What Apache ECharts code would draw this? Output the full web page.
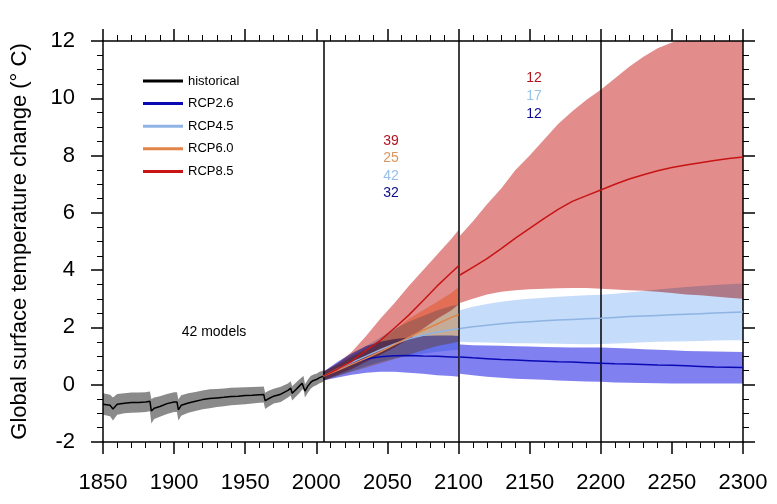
<!DOCTYPE html>
<html><head><meta charset="utf-8">
<script src="https://cdn.jsdelivr.net/npm/echarts@6/dist/echarts.min.js"></script>
<style>html,body{margin:0;padding:0;background:#fff}#c{width:777px;height:504px}</style>
</head><body><div id="c"></div>
<script>
// ---------- data ----------
const histYears = [1850,1855,1857,1860,1865,1870,1875,1880,1883,1884,1886,1890,1895,1900,1902,1903,1905,1910,1915,1920,1925,1930,1935,1940,1945,1950,1955,1960,1963,1964,1966,1970,1975,1980,1982,1983,1985,1988,1990,1991,1992,1994,1996,1998,2000,2002,2005];
const histMean = [-0.68,-0.72,-0.85,-0.68,-0.65,-0.62,-0.62,-0.6,-0.58,-0.92,-0.82,-0.76,-0.66,-0.6,-0.6,-0.88,-0.72,-0.64,-0.58,-0.52,-0.48,-0.46,-0.44,-0.41,-0.4,-0.38,-0.37,-0.35,-0.34,-0.56,-0.5,-0.4,-0.33,-0.2,-0.12,-0.3,-0.2,-0.05,0.05,0.08,-0.22,-0.05,0.08,0.15,0.18,0.24,0.3];
const histLow = [-1.05,-1.1,-1.25,-1.05,-1.0,-0.98,-0.97,-0.95,-0.93,-1.35,-1.2,-1.12,-1.02,-0.95,-0.95,-1.25,-1.08,-0.98,-0.92,-0.86,-0.82,-0.78,-0.75,-0.72,-0.7,-0.68,-0.66,-0.63,-0.62,-0.85,-0.78,-0.66,-0.6,-0.45,-0.38,-0.55,-0.45,-0.3,-0.18,-0.15,-0.45,-0.28,-0.14,-0.06,-0.02,0.04,0.1];
const histHigh = [-0.3,-0.35,-0.45,-0.32,-0.3,-0.27,-0.27,-0.26,-0.24,-0.5,-0.45,-0.4,-0.32,-0.26,-0.26,-0.52,-0.37,-0.3,-0.25,-0.2,-0.16,-0.15,-0.13,-0.11,-0.1,-0.09,-0.08,-0.07,-0.06,-0.28,-0.22,-0.14,-0.07,0.04,0.12,-0.05,0.04,0.18,0.27,0.3,0.02,0.17,0.3,0.36,0.38,0.44,0.5];

const futYears = [2005,2015,2025,2035,2045,2055,2065,2075,2085,2095,2100];
const rcp85Mean = [0.3,0.55,0.82,1.2,1.55,1.98,2.43,2.93,3.45,3.92,4.15];
const rcp85High = [0.45,0.75,1.15,1.7,2.3,2.85,3.45,4.0,4.55,5.1,5.4];
const rcp85Low  = [0.15,0.35,0.55,0.8,1.05,1.3,1.6,1.95,2.3,2.6,2.8];
const rcp60Mean = [0.3,0.5,0.72,0.92,1.15,1.4,1.65,1.9,2.12,2.35,2.45];
const rcp60High = [0.45,0.7,0.98,1.25,1.55,1.9,2.3,2.6,2.9,3.2,3.4];
const rcp60Low  = [0.15,0.3,0.45,0.6,0.75,0.9,1.05,1.2,1.35,1.45,1.5];
const rcp45Mean = [0.3,0.55,0.78,1.0,1.22,1.42,1.6,1.73,1.84,1.92,1.95];
const rcp45High = [0.45,0.75,1.05,1.35,1.65,1.95,2.2,2.4,2.6,2.75,2.8];
const rcp45Low  = [0.15,0.3,0.48,0.65,0.8,0.92,1.0,1.08,1.15,1.2,1.22];
const rcp26Mean = [0.3,0.52,0.75,0.9,0.98,1.01,1.02,1.0,0.99,0.97,0.96];
const rcp26High = [0.45,0.8,1.1,1.35,1.5,1.6,1.65,1.7,1.72,1.72,1.7];
const rcp26Low  = [0.15,0.25,0.35,0.42,0.45,0.45,0.42,0.38,0.33,0.3,0.28];

const extYears = [2101,2110,2120,2130,2140,2150,2160,2170,2180,2190,2200,2210,2220,2230,2240,2250,2260,2270,2280,2290,2300];
const ext85Mean = [3.83,4.1,4.4,4.75,5.12,5.46,5.8,6.12,6.4,6.6,6.8,7.0,7.18,7.33,7.47,7.58,7.67,7.75,7.83,7.9,7.95];
const ext85High = [5.2,5.7,6.3,6.85,7.5,8.0,8.55,9.1,9.55,9.95,10.3,10.7,11.1,11.45,11.75,11.95,12.1,12.3,12.5,12.6,12.7];
const ext85Low  = [2.85,3.0,3.15,3.25,3.3,3.33,3.35,3.37,3.38,3.38,3.35,3.32,3.3,3.28,3.25,3.2,3.15,3.12,3.08,3.04,3.0];
const ext45Mean = [1.96,2.02,2.08,2.13,2.17,2.2,2.23,2.26,2.28,2.3,2.32,2.35,2.38,2.4,2.42,2.44,2.46,2.48,2.5,2.52,2.54];
const ext45High = [2.6,2.72,2.82,2.9,2.96,3.0,3.04,3.07,3.1,3.12,3.14,3.18,3.22,3.27,3.32,3.37,3.41,3.45,3.48,3.51,3.53];
const ext45Low  = [1.5,1.48,1.47,1.46,1.45,1.45,1.44,1.43,1.42,1.41,1.42,1.44,1.46,1.48,1.5,1.51,1.52,1.53,1.54,1.55,1.55];
const ext26Mean = [0.97,0.94,0.91,0.88,0.86,0.84,0.82,0.8,0.79,0.77,0.75,0.73,0.72,0.71,0.69,0.68,0.66,0.64,0.62,0.61,0.6];
const ext26High = [1.4,1.38,1.37,1.36,1.34,1.33,1.32,1.31,1.3,1.3,1.3,1.28,1.26,1.24,1.22,1.2,1.18,1.17,1.16,1.15,1.14];
const ext26Low  = [0.38,0.33,0.28,0.24,0.21,0.19,0.17,0.15,0.13,0.11,0.1,0.08,0.07,0.06,0.05,0.04,0.04,0.04,0.04,0.04,0.04];

const dividerYears = [2005, 2100, 2200];
const legendNames = ['historical','RCP2.6','RCP4.5','RCP6.0','RCP8.5'];
const modelCounts2100 = ['39','25','42','32'];
const modelCounts2300 = ['12','17','12'];
const histLabel = '42 models';
const xMin = 1850, xMax = 2300, xStep = 50;
const yMin = -2, yMax = 12, yStep = 2;

// ---------- chart ----------
const FONT = 'Liberation Sans, Arial, Helvetica, sans-serif';
const C = {
  hist: '#000000', r26: '#0a0ab4', r45: '#8fb4e4', r60: '#e0844a', r85: '#c81414',
  b_hist: '#8a8a8a', b26: '#8080f0', b45: '#c5dcfa', b60: '#fec89b', b85: '#e28c8c'
};
const zip = (xs, ys) => xs.map((x, i) => [x, ys[i]]);

function band(name, years, low, high, color) {
  return {
    type: 'custom', name: name, silent: true, clip: true, blendMode: 'multiply', z: 2,
    animation: false,
    data: [[years[0], low[0]]],
    renderItem: function (params, api) {
      const pts = [];
      for (let i = 0; i < years.length; i++) pts.push(api.coord([years[i], high[i]]));
      for (let i = years.length - 1; i >= 0; i--) pts.push(api.coord([years[i], low[i]]));
      return { type: 'polygon', shape: { points: pts }, style: { fill: color, stroke: null } };
    }
  };
}
function line(name, years, vals, color, width) {
  return {
    type: 'line', name: name, data: zip(years, vals), showSymbol: false, symbol: 'none',
    lineStyle: { color: color, width: width || 1.5 }, itemStyle: { color: color },
    z: 5, animation: false, silent: true
  };
}

const axisCommon = {
  axisLine: { show: true, onZero: false, lineStyle: { color: '#000', width: 1.5 } },
  axisTick: { show: true, inside: false, length: 12, lineStyle: { color: '#000', width: 1.5 } },
  minorTick: { show: true, length: 6, lineStyle: { color: '#000', width: 1 } },
  splitLine: { show: false }
};

const histLine = line('historical', histYears, histMean, C.hist, 1.5);
histLine.markLine = {
  silent: true, symbol: ['none', 'none'], label: { show: false }, animation: false,
  lineStyle: { color: '#000', width: 1.5, type: 'solid' },
  data: dividerYears.map(v => ({ xAxis: v }))
};

const plain = v => String(v);

const option = {
  backgroundColor: '#fff',
  animation: false,
  grid: { left: 103, right: 34, top: 41, bottom: 62, containLabel: false },
  xAxis: [
    Object.assign({ type: 'value', min: xMin, max: xMax, interval: xStep, position: 'bottom',
      axisLabel: { fontSize: 22, color: '#000', margin: 30, fontFamily: FONT, formatter: plain } }, axisCommon,
      { minorTick: Object.assign({}, axisCommon.minorTick, { splitNumber: 5 }) }),
    Object.assign({ type: 'value', min: xMin, max: xMax, interval: xStep, position: 'top',
      axisLabel: { show: false } }, axisCommon,
      { minorTick: Object.assign({}, axisCommon.minorTick, { splitNumber: 5 }) })
  ],
  yAxis: [
    Object.assign({ type: 'value', min: yMin, max: yMax, interval: yStep, position: 'left',
      axisLabel: { fontSize: 22, color: '#000', margin: 28, fontFamily: FONT, formatter: plain },
      name: 'Global surface temperature change (° C)', nameLocation: 'middle', nameRotate: 90,
      nameGap: 72, nameTextStyle: { fontSize: 22, color: '#000', fontFamily: FONT } }, axisCommon,
      { minorTick: Object.assign({}, axisCommon.minorTick, { splitNumber: 4 }) }),
    Object.assign({ type: 'value', min: yMin, max: yMax, interval: yStep, position: 'right',
      axisLabel: { show: false } }, axisCommon,
      { minorTick: Object.assign({}, axisCommon.minorTick, { splitNumber: 4 }) })
  ],
  legend: {
    data: legendNames, orient: 'vertical', left: 138, top: 65, icon: 'rect',
    itemWidth: 40, itemHeight: 3, itemGap: 0.6, selectedMode: false,
    textStyle: { fontSize: 13, color: '#000', fontFamily: FONT, lineHeight: 22, height: 22 }
  },
  graphic: [
    { type: 'text', x: 391, y: 141, style: { text: modelCounts2100[0], fill: '#b4141e', font: '14px ' + FONT, textAlign: 'center', textVerticalAlign: 'middle' } },
    { type: 'text', x: 391, y: 158, style: { text: modelCounts2100[1], fill: '#d9955e', font: '14px ' + FONT, textAlign: 'center', textVerticalAlign: 'middle' } },
    { type: 'text', x: 391, y: 176, style: { text: modelCounts2100[2], fill: '#96bee8', font: '14px ' + FONT, textAlign: 'center', textVerticalAlign: 'middle' } },
    { type: 'text', x: 391, y: 193, style: { text: modelCounts2100[3], fill: '#0a0a8c', font: '14px ' + FONT, textAlign: 'center', textVerticalAlign: 'middle' } },
    { type: 'text', x: 534, y: 78, style: { text: modelCounts2300[0], fill: '#b4141e', font: '14px ' + FONT, textAlign: 'center', textVerticalAlign: 'middle' } },
    { type: 'text', x: 534, y: 96, style: { text: modelCounts2300[1], fill: '#96c4e6', font: '14px ' + FONT, textAlign: 'center', textVerticalAlign: 'middle' } },
    { type: 'text', x: 534, y: 114, style: { text: modelCounts2300[2], fill: '#0a0a8c', font: '14px ' + FONT, textAlign: 'center', textVerticalAlign: 'middle' } },
    { type: 'text', x: 214, y: 332, style: { text: histLabel, fill: '#000', font: '14px ' + FONT, textAlign: 'center', textVerticalAlign: 'middle' } }
  ],
  series: [
    band('hist range', histYears, histLow, histHigh, C.b_hist),
    band('RCP8.5 range', futYears, rcp85Low, rcp85High, C.b85),
    band('RCP6.0 range', futYears, rcp60Low, rcp60High, C.b60),
    band('RCP4.5 range', futYears, rcp45Low, rcp45High, C.b45),
    band('RCP2.6 range', futYears, rcp26Low, rcp26High, C.b26),
    band('RCP8.5 range ext', extYears, ext85Low, ext85High, C.b85),
    band('RCP4.5 range ext', extYears, ext45Low, ext45High, C.b45),
    band('RCP2.6 range ext', extYears, ext26Low, ext26High, C.b26),
    histLine,
    line('RCP2.6', futYears, rcp26Mean, C.r26, 1.5),
    line('RCP4.5', futYears, rcp45Mean, C.r45, 1.5),
    line('RCP6.0', futYears, rcp60Mean, C.r60, 1.5),
    line('RCP8.5', futYears, rcp85Mean, C.r85, 1.5),
    line('RCP2.6', extYears, ext26Mean, C.r26, 1.5),
    line('RCP4.5', extYears, ext45Mean, C.r45, 1.5),
    line('RCP8.5', extYears, ext85Mean, C.r85, 1.5)
  ]
};
const chart = echarts.init(document.getElementById('c'), null, { renderer: 'canvas' });
chart.setOption(option);
</script>
</body></html>
